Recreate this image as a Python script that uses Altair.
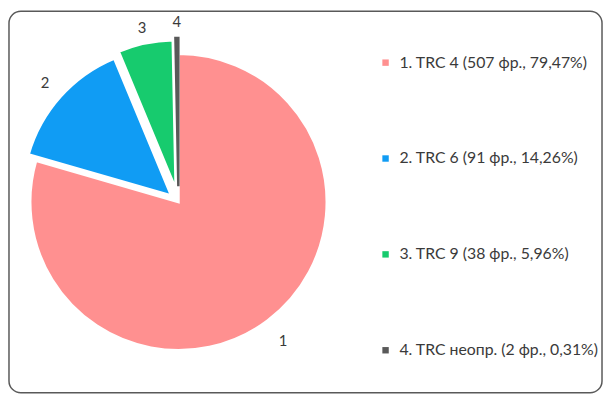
import math
import altair as alt
import pandas as pd

# ---- data ----
CATEGORIES = [
    "1. TRC 4 (507 фр., 79,47%)",
    "2. TRC 6 (91 фр., 14,26%)",
    "3. TRC 9 (38 фр., 5,96%)",
    "4. TRC неопр. (2 фр., 0,31%)",
]
SLICE_LABELS = ["1", "2", "3", "4"]
COUNTS = [507, 91, 38, 2]

# ---- styles ----
COLORS = ["#FF9090", "#109CF4", "#17CB6E", "#595959"]
STROKES = ["white", "white", "white", "#595959"]
STROKE_W = [2.5, 2.5, 2.5, 1.0]
EXPLODE = [0, 10, 14, 16]
LABEL_GAP = [26, 21, 16, 16]
TEXT = "#3A3A3A"
FONT = "Lato"

TOTAL = sum(COUNTS)
CX, CY, R = 171.5, 193, 150

df = pd.DataFrame({
    "cat": CATEGORIES,
    "lab": SLICE_LABELS,
    "n": COUNTS,
    "idx": list(range(len(COUNTS))),
    "explode": EXPLODE,
    "gap": LABEL_GAP,
})

base = (
    alt.Chart(df)
    .transform_window(cum="sum(n)", sort=[alt.SortField("idx")], frame=[None, 0])
    .transform_calculate(start="datum.cum - datum.n")
    .transform_calculate(mid=f"2*PI*(datum.cum - datum.n/2)/{TOTAL}")
    .transform_calculate(
        ex=f"{CX} + datum.explode*sin(datum.mid)",
        ey=f"{CY} - datum.explode*cos(datum.mid)",
    )
    .transform_calculate(
        lx=f"{CX} + ({R} + datum.explode + datum.gap)*sin(datum.mid)",
        ly=f"{CY} - ({R} + datum.explode + datum.gap)*cos(datum.mid)",
    )
)

arcs = base.mark_arc(outerRadius=R).encode(
    theta=alt.Theta("start:Q", scale=alt.Scale(domain=[0, TOTAL], range=[0, 2 * math.pi])),
    theta2="cum:Q",
    x=alt.X("ex:Q", scale=None),
    y=alt.Y("ey:Q", scale=None),
    color=alt.Color(
        "cat:N",
        scale=alt.Scale(domain=CATEGORIES, range=COLORS),
        legend=alt.Legend(
            title=None,
            orient="none",
            legendX=373,
            legendY=44,
            rowPadding=81,
            symbolType="square",
            symbolSize=42,
            symbolStrokeWidth=0,
            labelFont=FONT,
            labelFontSize=16,
            labelColor=TEXT,
            labelOffset=6,
            labelLimit=400,
            padding=0,
        ),
    ),
    stroke=alt.Stroke("cat:N", scale=alt.Scale(domain=CATEGORIES, range=STROKES), legend=None),
    strokeWidth=alt.StrokeWidth("idx:O", scale=alt.Scale(domain=list(range(4)), range=STROKE_W), legend=None),
    order=alt.Order("idx:Q"),
)

labels = base.mark_text(font=FONT, fontSize=15, color=TEXT, align="center", baseline="middle").encode(
    x=alt.X("lx:Q", scale=None),
    y=alt.Y("ly:Q", scale=None),
    text="lab:N",
)

chart = (
    alt.layer(arcs, labels)
    .properties(
        width=600,
        height=386,
        autosize=alt.AutoSizeParams(type="none"),
        padding={"left": 1, "top": 1, "right": 1, "bottom": 1},
    )
    .configure_view(stroke="#595959", strokeWidth=1.5, cornerRadius=12)
)

chart.save("out.html", embed_options={"renderer": "svg", "actions": False})
